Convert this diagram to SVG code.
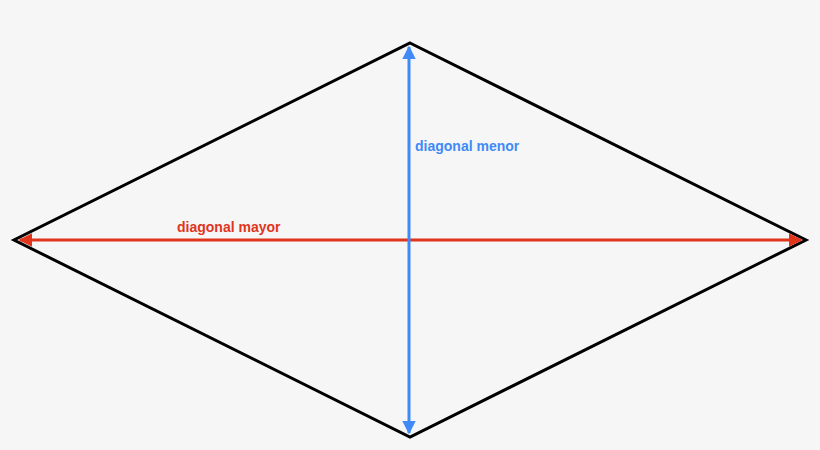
<svg xmlns="http://www.w3.org/2000/svg" width="820" height="450" viewBox="0 0 820 450">
<style>
.lbl{font-family:"Liberation Sans",Arial,sans-serif;font-weight:bold;font-size:14px}
</style>
<defs>
<marker id="ar" viewBox="0 0 10 10" refX="9" refY="5" markerWidth="4.5" markerHeight="4.5" orient="auto-start-reverse"><path d="M0,0L10,5L0,10z" fill="#e0341c"/></marker>
<marker id="ab" viewBox="0 0 10 10" refX="9" refY="5" markerWidth="4.5" markerHeight="4.5" orient="auto-start-reverse"><path d="M0,0L10,5L0,10z" fill="#3f8af7"/></marker>
</defs>
<rect width="820" height="450" fill="#f6f6f6"/>
<g id="rombo"><polygon points="410,43 806,240 410,437 14,240" fill="none" stroke="#000" stroke-width="3"/></g>
<g id="connectors">
<line x1="20" y1="240" x2="801" y2="240" stroke="#e0341c" stroke-width="3" marker-start="url(#ar)" marker-end="url(#ar)"/>
<line x1="409" y1="47" x2="409" y2="433" stroke="#3f8af7" stroke-width="3" marker-start="url(#ab)" marker-end="url(#ab)"/>
</g>
<g id="labels">
<text class="lbl" x="177" y="232" fill="#e0341c">diagonal mayor</text>
<text class="lbl" x="415" y="151" fill="#3f8af7">diagonal menor</text>
</g>
</svg>
